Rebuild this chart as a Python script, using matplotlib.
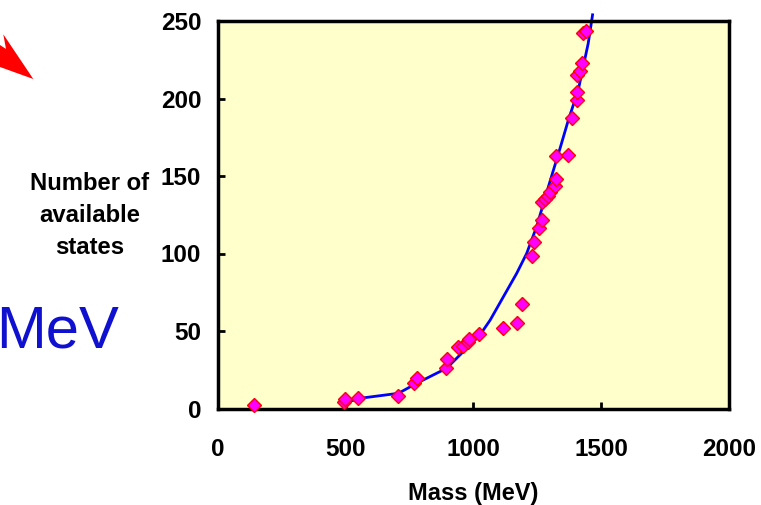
import numpy as np
import matplotlib
matplotlib.use("Agg")
import matplotlib.pyplot as plt
from matplotlib.patches import Polygon

plt.rcParams['font.family'] = ['Liberation Sans', 'DejaVu Sans']

# hadron masses (MeV) and cumulative number of states
mass = [140, 494, 498, 548, 704, 768, 780, 891, 896, 938, 960, 977, 982, 1023,
        1114, 1171, 1191, 1230, 1236, 1258, 1268, 1267, 1281, 1290, 1299, 1318,
        1323, 1323, 1371, 1384, 1404, 1405, 1406, 1417, 1426, 1430, 1440]
states = [2.5, 4.4, 6.1, 7.0, 8.0, 16.2, 19.9, 25.9, 31.9, 39.9, 40.3, 43.1, 44.6, 47.9,
          51.7, 55.4, 67.2, 98.4, 107.6, 116.3, 121.6, 133.4, 135.2, 137.1, 139.7, 143.7,
          147.9, 163.1, 163.7, 187.6, 199.0, 204.0, 215.2, 217.7, 223.1, 242.5, 243.5]

# fitted growth curve
fit_mass = [495, 556, 706, 778, 895, 1025, 1065, 1169, 1208, 1247, 1293,
            1339, 1371, 1410, 1449, 1466]
fit_states = [3.5, 6.6, 9.8, 16.3, 26.0, 47.4, 57.0, 87.2, 100.0, 117.3, 143.0,
              168.0, 186.0, 205.5, 235.6, 254.0]

xticks = [0, 500, 1000, 1500, 2000]
yticks = [0, 50, 100, 150, 200, 250]

W, H = 761, 505
fig = plt.figure(figsize=(W / 100, H / 100), dpi=100)
ax = fig.add_axes([218 / W, 1 - 408.5 / H, (729 - 218) / W, (408.5 - 21) / H])
ax.set_facecolor('#FFFFCC')

ax.plot(fit_mass, fit_states, color='#0000FF', lw=2.0, clip_on=False, zorder=2)
ax.plot(mass, states, ls='none', marker='D', ms=7.5, mfc='#FF00FF', mec='#FF0000',
        mew=1.0, clip_on=False, zorder=3)

ax.set_xlim(0, 2000)
ax.set_ylim(0, 250)
ax.set_xticks(xticks)
ax.set_yticks(yticks)
ax.tick_params(direction='in', length=5, width=2, labelsize=17.5, top=False, right=False)
ax.tick_params(axis='x', pad=21)
ax.tick_params(axis='y', pad=12)
for lab in ax.get_xticklabels() + ax.get_yticklabels():
    lab.set_fontweight('bold')
for sp in ax.spines.values():
    sp.set_linewidth(2.5)

ax.set_xlabel('Mass (MeV)', fontsize=17, fontweight='bold', labelpad=15)

fig.text(90 / W, 1 - 216 / H, 'Number of\navailable\nstates', ha='center', va='center',
         multialignment='center', fontsize=17.2, fontweight='bold', linespacing=1.5)

fig.text(119 / W, 1 - 348 / H, 'MeV', ha='right', va='baseline', fontsize=43,
         color='#1010D0')

# red arrow head coming in from the left edge
arrow_px = np.array([[0, 45], [6, 49], [3.3, 34.3], [33.3, 79], [0, 67]])
arrow = Polygon(np.column_stack([arrow_px[:, 0] / W, 1 - arrow_px[:, 1] / H]),
                closed=True, facecolor='#FF0000', edgecolor='none',
                transform=fig.transFigure)
fig.patches.append(arrow)

fig.savefig('out.png', dpi=100)
